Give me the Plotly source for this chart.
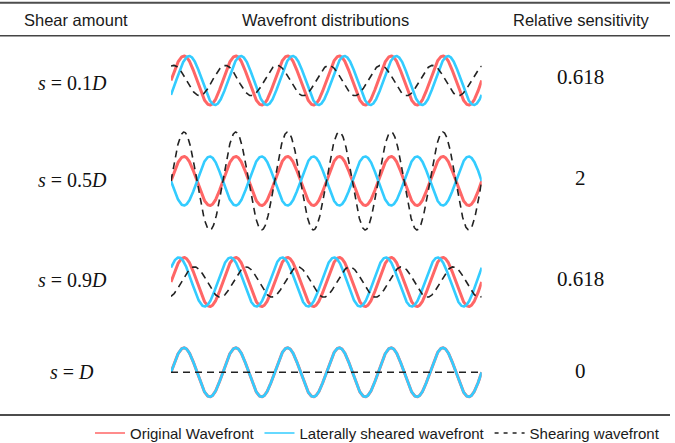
import numpy as np
import plotly.graph_objects as go

# table content
headers = ["Shear amount", "Wavefront distributions", "Relative sensitivity"]
shear_amounts = [0.1, 0.5, 0.9, 1.0]          # shear s as a fraction of the period D
shear_labels = ["<i>s</i> = 0.1<i>D</i>", "<i>s</i> = 0.5<i>D</i>",
                "<i>s</i> = 0.9<i>D</i>", "<i>s</i> = <i>D</i>"]
sensitivity = ["0.618", "2", "0.618", "0"]
n_periods = 6
legend_names = ["Original Wavefront", "Laterally sheared wavefront", "Shearing wavefront"]

W, H = 675, 443
RED = "#ff6666"
BLUE = "#33ccff"
DASH = "#222222"

# pixel layout of the rows (centres from the top)
row_centers = [80.5, 181, 282, 372.3]
label_y = [83, 180, 280, 372]
value_y = [77.5, 178, 279, 371]
amp_px = 24.5
y_half = 2.3

x = np.linspace(0, n_periods, 1201)

fig = go.Figure()
for k, s in enumerate(shear_amounts):
    ya = "y" if k == 0 else f"y{k + 1}"
    original = np.sin(2 * np.pi * x)
    sheared = np.sin(2 * np.pi * (x - s))
    shearing = original - sheared
    fig.add_trace(go.Scatter(x=x, y=original, xaxis="x", yaxis=ya, mode="lines",
                             line=dict(color=RED, width=3), showlegend=False, hoverinfo="skip"))
    fig.add_trace(go.Scatter(x=x, y=sheared, xaxis="x", yaxis=ya, mode="lines",
                             line=dict(color=BLUE, width=2.6), showlegend=False, hoverinfo="skip"))
    fig.add_trace(go.Scatter(x=x, y=shearing, xaxis="x", yaxis=ya, mode="lines",
                             line=dict(color=DASH, width=1.6, dash="7px,5px"),
                             showlegend=False, hoverinfo="skip"))

# legend-only entries with thin sample lines
for name, color, dash in zip(legend_names, [RED, BLUE, DASH], ["solid", "solid", "4px,5px"]):
    fig.add_trace(go.Scatter(x=[None], y=[None], mode="lines", name=name,
                             line=dict(color=color, width=1.5, dash=dash)))

layout_axes = {}
layout_axes["xaxis"] = dict(domain=[171 / W, 481.7 / W], range=[0, n_periods], visible=False,
                            fixedrange=True)
for k, c in enumerate(row_centers):
    key = "yaxis" if k == 0 else f"yaxis{k + 1}"
    yc = 1 - c / H
    h = y_half * amp_px / H
    layout_axes[key] = dict(domain=[yc - h, yc + h], range=[-y_half, y_half],
                            visible=False, anchor="x", fixedrange=True)

annotations = []
for txt, cx in zip(headers, [75.5, 325, 581]):
    annotations.append(dict(text=txt, x=cx / W, y=1 - 20 / H, xref="paper", yref="paper",
                            showarrow=False, xanchor="center", yanchor="middle",
                            font=dict(family="Liberation Sans, Arial", size=16.5, color="#1a1a1a")))
for txt, yy in zip(shear_labels, label_y):
    annotations.append(dict(text=txt, x=72 / W, y=1 - yy / H, xref="paper", yref="paper",
                            showarrow=False, xanchor="center", yanchor="middle",
                            font=dict(family="Liberation Serif, Times New Roman", size=20,
                                      color="#111111")))
for txt, yy in zip(sensitivity, value_y):
    annotations.append(dict(text=txt, x=580 / W, y=1 - yy / H, xref="paper", yref="paper",
                            showarrow=False, xanchor="center", yanchor="middle",
                            font=dict(family="Liberation Serif, Times New Roman", size=21,
                                      color="#111111")))

shapes = []
for py, lw, col in [(2.7, 2, "#4d4d4d"), (35.7, 1.6, "#444444"), (415, 1.6, "#111111")]:
    shapes.append(dict(type="line", xref="paper", yref="paper", x0=0, x1=670 / W,
                       y0=1 - py / H, y1=1 - py / H, line=dict(color=col, width=lw)))

fig.update_layout(
    width=W, height=H,
    # no auto-expanding: the legend must not push the margins
    margin=dict(l=0, r=0, t=0, b=0, autoexpand=False),
    paper_bgcolor="white", plot_bgcolor="white",
    annotations=annotations,
    shapes=shapes,
    legend=dict(orientation="h", x=90 / W, xanchor="left", y=1 - 433.3 / H, yanchor="middle",
                itemwidth=30, font=dict(family="Liberation Sans, Arial", size=15, color="#1a1a1a"),
                bgcolor="rgba(0,0,0,0)"),
    **layout_axes,
)

# drop the default page margin/scrolling so the figure fills the window exactly
page_fix = ("document.documentElement.style.margin='0';"
            "document.documentElement.style.overflow='hidden';"
            "document.body.style.margin='0';"
            "document.body.style.overflow='hidden';")
fig.write_html("out.html", config={"displayModeBar": False}, post_script=page_fix)
